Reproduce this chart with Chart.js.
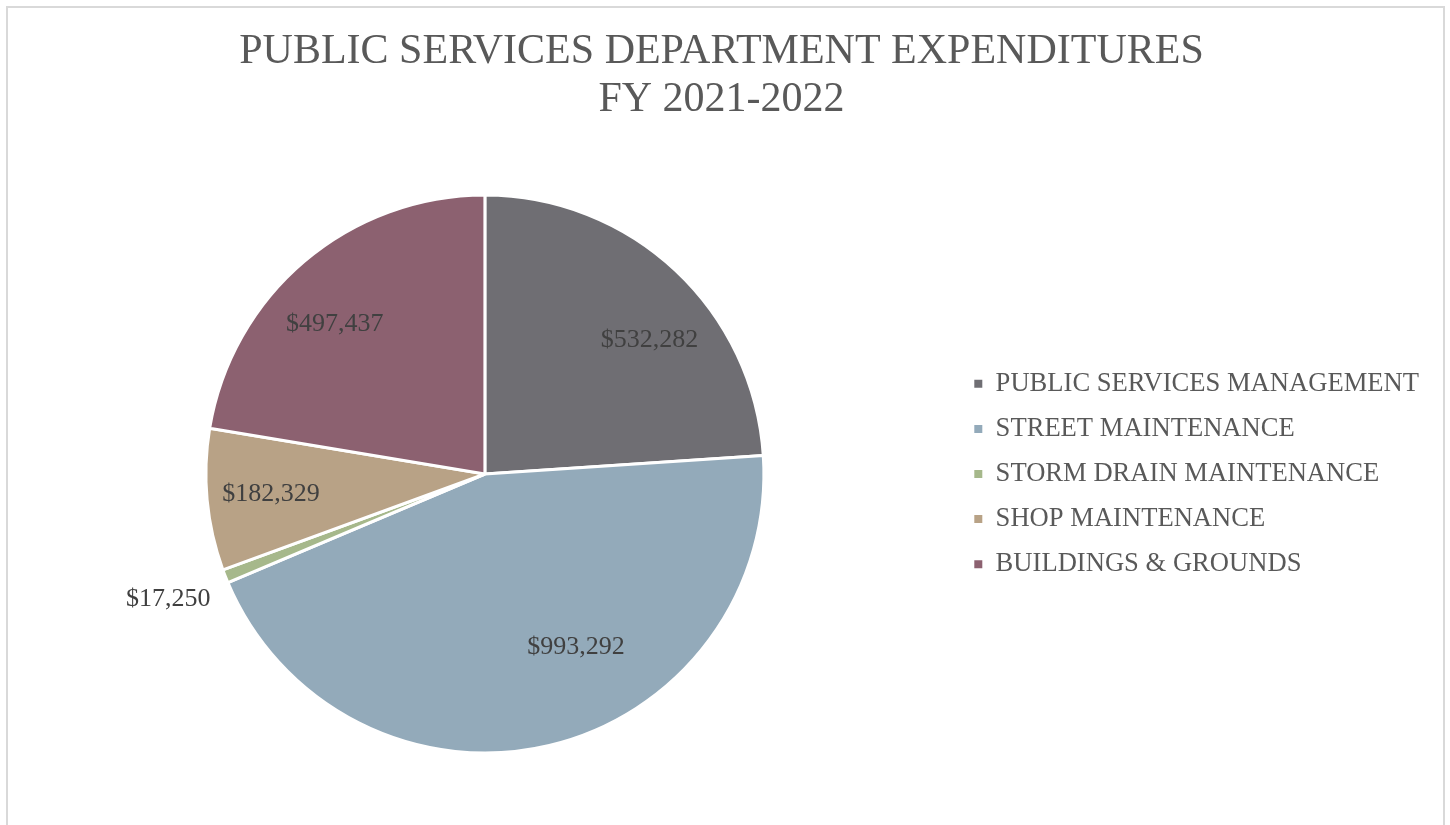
<!DOCTYPE html>
<html>
<head>
<meta charset="utf-8">
<title>Public Services Department Expenditures FY 2021-2022</title>
<script src="https://cdn.jsdelivr.net/npm/chart.js@4.4.0/dist/chart.umd.min.js"></script>
<style>
  html, body { margin: 0; padding: 0; background: #fff; overflow: hidden; }
  #wrap { position: relative; width: 1450px; height: 825px; }
  #frame { position: absolute; left: 6px; top: 6px; width: 1439px; height: 900px; border: 2px solid #d9d9d9; box-sizing: border-box; }
  #mycanvas { position: absolute; left: 0; top: 0; }
</style>
</head>
<body>
<div id="wrap">
  <div id="frame"></div>
  <canvas id="mycanvas" width="1450" height="825"></canvas>
</div>
<script>
var titleLines = ['PUBLIC SERVICES DEPARTMENT EXPENDITURES', 'FY 2021-2022'];
var divisions = ['PUBLIC SERVICES MANAGEMENT', 'STREET MAINTENANCE', 'STORM DRAIN MAINTENANCE', 'SHOP MAINTENANCE', 'BUILDINGS & GROUNDS'];
var expenditures = [532282, 993292, 17250, 182329, 497437];
var sliceColors = ['#6f6e73', '#93aaba', '#a6b88b', '#b8a286', '#8c6170'];

// where each value label sits: share of the slice's sweep, share of the radius
var labelSweep = [0.59, 0.41, 0.5, 0.5, 0.44];
var labelRadius = [0.76, 0.70, 1.22, 0.77, 0.76];

var serif = "'Liberation Serif', 'Times New Roman', serif";

var valueLabels = {
	id: 'valueLabels',
	afterDatasetsDraw: function(chart) {
		var ctx = chart.ctx;
		var meta = chart.getDatasetMeta(0);
		ctx.save();
		ctx.font = '26px ' + serif;
		ctx.fillStyle = '#404040';
		ctx.textAlign = 'center';
		ctx.textBaseline = 'middle';
		meta.data.forEach(function(arc, i) {
			var p = arc.getProps(['x', 'y', 'startAngle', 'endAngle', 'outerRadius'], true);
			var a = p.startAngle + (p.endAngle - p.startAngle) * labelSweep[i];
			var r = p.outerRadius * labelRadius[i];
			var text = '$' + expenditures[i].toLocaleString('en-US');
			ctx.fillText(text, p.x + Math.cos(a) * r, p.y + Math.sin(a) * r);
		});
		ctx.restore();
	}
};

var chartdata = {
	labels: divisions,
	datasets: [
		{
			data: expenditures,
			backgroundColor: sliceColors,
			borderColor: '#ffffff',
			borderWidth: 3,
			radius: 279
		}
	]
};

var pieChart = new Chart(document.getElementById('mycanvas'), {
	type: 'pie',
	data: chartdata,
	plugins: [valueLabels],
	options: {
		responsive: false,
		animation: false,
		layout: { padding: { left: 14, right: 21, top: 0, bottom: 72 } },
		plugins: {
			title: {
				display: true,
				text: titleLines,
				color: '#595959',
				font: { family: serif, size: 42, weight: 'normal', lineHeight: 1.143 },
				padding: { top: 27.5, bottom: 71.5 }
			},
			legend: {
				position: 'right',
				fullSize: false,
				labels: {
					boxWidth: 8,
					boxHeight: 8,
					padding: 18.5,
					color: '#595959',
					font: { family: serif, size: 26.6 },
					// plain squares, without the white slice outline
					generateLabels: function(chart) {
						var items = Chart.overrides.pie.plugins.legend.labels.generateLabels(chart);
						items.forEach(function(item) { item.lineWidth = 0; });
						return items;
					}
				}
			},
			tooltip: { enabled: false }
		}
	}
});
</script>
</body>
</html>
